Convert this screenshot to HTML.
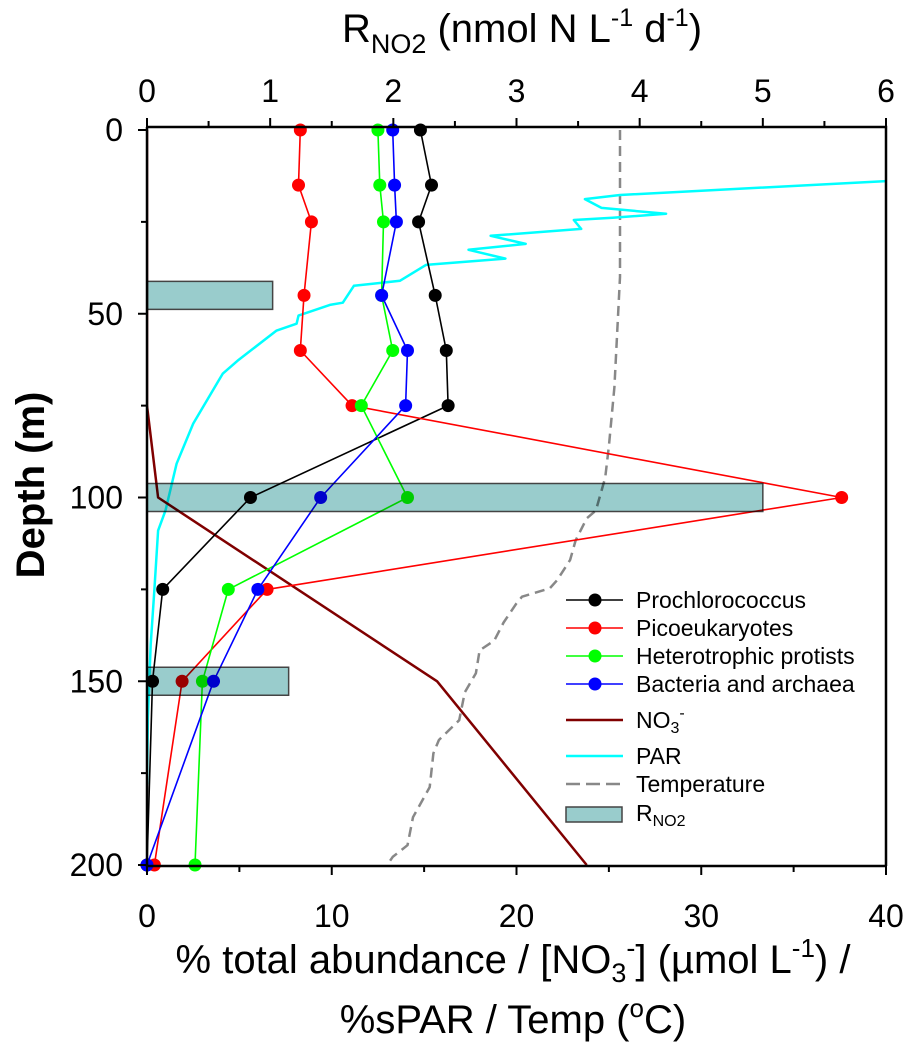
<!DOCTYPE html>
<html><head><meta charset="utf-8"><style>
html,body{margin:0;padding:0;background:#fff;}
svg text{font-family:"Liberation Sans",sans-serif;fill:#000;}
</style></head><body>
<svg id="chart" width="907" height="1047" viewBox="0 0 907 1047" xmlns="http://www.w3.org/2000/svg" style="position:absolute;left:0;top:0">
<g id="plot"></g>
</svg>
<script>
const depthsBio = [0, 15, 25, 45, 60, 75, 100, 125, 150, 200];
const prochlorococcus = [14.8, 15.4, 14.7, 15.6, 16.2, 16.3, 5.6, 0.85, 0.3, 0];
const picoeukaryotes = [8.3, 8.2, 8.9, 8.5, 8.3, 11.1, 37.6, 6.5, 1.9, 0.4];
const heterotrophs = [12.5, 12.6, 12.8, 12.7, 13.3, 11.6, 14.1, 4.4, 3.0, 2.6];
const bacteria = [13.3, 13.4, 13.5, 12.7, 14.1, 14.0, 9.4, 6.0, 3.6, 0];
const no3Depth = [0, 75, 100, 150, 200];
const no3Values = [0, 0, 0.6, 15.7, 23.8];
const parDepth = [13.9, 17.7, 18.8, 21.2, 22.8, 23.9, 24.5, 26.9, 28.8, 31, 32.6, 35, 36.7, 41, 42.4, 47, 47.6, 50.5, 52.7, 54.6, 62.8, 66.3, 79.9, 90.8, 103.5, 109, 125, 140, 160, 178];
const parValues = [40, 25.6, 23.7, 24.6, 28.1, 25.2, 23.1, 23.5, 18.6, 20.5, 17.4, 19.4, 15.1, 13.7, 11.2, 10.6, 9.9, 8.2, 8.1, 7.0, 4.9, 4.1, 2.5, 1.6, 1.0, 0.6, 0.4, 0.2, 0.05, 0];
const tempDepth = [0, 40, 70, 86, 94.6, 103.5, 105.7, 111.7, 117, 122.5, 124.7, 127, 128.8, 134, 138.9, 141.6, 147.8, 153, 160.6, 166, 169.6, 178.8, 187, 194.6, 197.8, 200];
const tempValues = [25.6, 25.6, 25.3, 25.0, 24.8, 24.3, 23.8, 23.2, 22.9, 22.2, 21.8, 20.3, 20.0, 19.3, 18.8, 18.0, 17.8, 17.2, 16.9, 15.8, 15.5, 15.3, 14.4, 14.1, 13.3, 13.0];
const rno2Depth = [45, 100, 150];
const rno2Values = [1.02, 5.0, 1.15];
const bottomTicks = [0, 10, 20, 30, 40];
const topTicks = [0, 1, 2, 3, 4, 5, 6];
const depthTicks = [0, 50, 100, 150, 200];

const NS = "http://www.w3.org/2000/svg";
const X0 = 147, X1 = 886, YT = 127, YB = 866;
const xB = v => X0 + v / 40 * (X1 - X0);
const xT = v => X0 + v / 6 * (X1 - X0);
const yD = d => 130 + d * 3.675;
const g = document.getElementById("plot");
function mk(tag, attrs, parent) {
  const e = document.createElementNS(NS, tag);
  for (const k in attrs) e.setAttribute(k, attrs[k]);
  (parent || g).appendChild(e);
  return e;
}
function poly(xs, ds, fx, stroke, w, dash, name) {
  const pts = xs.map((v, i) => fx(v).toFixed(1) + "," + yD(ds[i]).toFixed(1)).join(" ");
  const p = mk("polyline", {points: pts, fill: "none", stroke: stroke, "stroke-width": w, "stroke-linejoin": "round"});
  if (dash) p.setAttribute("stroke-dasharray", dash);
  
  
  return p;
}
const defs = mk("defs", {});
const cp = mk("clipPath", {id: "clip"}, defs);
mk("rect", {x: X0, y: YT, width: X1 - X0, height: YB - YT + 10}, cp);
const cg = mk("g", {"clip-path": "url(#clip)"});


function inClip(el){ cg.appendChild(el); return el; }
inClip(poly(tempValues, tempDepth, xB, "#888", 2.5, "10,6", "temperature-line"));
inClip(poly(parValues, parDepth, xB, "#00FFFF", 2.5, null, "par-line"));
inClip(poly(no3Values, no3Depth, xB, "#800000", 2.5, null, "no3-line"));
const series = [
  [prochlorococcus, "#000", "prochlorococcus"],
  [picoeukaryotes, "#FF0000", "picoeukaryotes"],
  [heterotrophs, "#00FF00", "heterotrophic-protists"],
  [bacteria, "#0000FF", "bacteria-archaea"]
];
series.forEach(([vals, col, nm]) => {
  inClip(poly(vals, depthsBio, xB, col, 1.6, null, nm + "-line"));
});
series.forEach(([vals, col, nm]) => {
  vals.forEach((v, i) => {
    const c = mk("circle", {cx: xB(v), cy: yD(depthsBio[i]), r: 6.5, fill: col});
    
    
  });
});
rno2Depth.forEach((d, i) => {
  const r = mk("rect", {x: X0, y: yD(d) - 14, width: xT(rno2Values[i]) - X0, height: 28, fill: "#99CCCC", stroke: "#444", "stroke-width": 1.5, style: "mix-blend-mode:multiply"});
  
  
});
const ax = mk("path", {d: `M${X0},${YT}H${X1}V${YB}M${X0},${YT}V${YB}H${X1}`, fill: "none", stroke: "#000", "stroke-width": 2.5});


for (let v = 0; v <= 40; v += 5) {
  const len = v % 10 === 0 ? 9 : 6;
  mk("line", {x1: xB(v), x2: xB(v), y1: YB, y2: YB + len, stroke: "#000", "stroke-width": 2});
}
for (let v = 0; v <= 6; v += 0.5) {
  const len = v % 1 === 0 ? 9 : 6;
  mk("line", {x1: xT(v), x2: xT(v), y1: YT, y2: YT - len, stroke: "#000", "stroke-width": 2});
}
for (let d = 0; d <= 200; d += 25) {
  mk("line", {x1: X0, x2: X0 - (d % 50 === 0 ? 9 : 6), y1: yD(d), y2: yD(d), stroke: "#000", "stroke-width": 2});
}
bottomTicks.forEach(v => {
  const t = mk("text", {x: xB(v), y: 927, "text-anchor": "middle", "font-size": 32});
  t.textContent = v;
  
  
});
topTicks.forEach(v => {
  const t = mk("text", {x: xT(v), y: 102, "text-anchor": "middle", "font-size": 32});
  t.textContent = v;
  
  
});
depthTicks.forEach(d => {
  const t = mk("text", {x: 123, y: yD(d) + 11, "text-anchor": "end", "font-size": 32});
  t.textContent = d;
  
  
});
</script>
<svg width="907" height="1047" style="position:absolute;left:0;top:0" xmlns="http://www.w3.org/2000/svg">
<text x="522" y="42" text-anchor="middle" font-size="40">R<tspan font-size="27" dy="11">NO2</tspan><tspan dy="-11"> (nmol N L</tspan><tspan font-size="25" dy="-16">-1</tspan><tspan dy="16"> d</tspan><tspan font-size="25" dy="-16">-1</tspan><tspan dy="16">)</tspan></text>
<text transform="translate(44,485) rotate(-90)" text-anchor="middle" font-size="40" font-weight="bold">Depth (m)</text>
<text x="513" y="973" text-anchor="middle" font-size="40">% total abundance / [NO<tspan font-size="27" dy="9">3</tspan><tspan font-size="27" dy="-25">-</tspan><tspan dy="16">] (µmol L</tspan><tspan font-size="26" dy="-16">-1</tspan><tspan dy="16">) /</tspan></text>
<text x="513" y="1033" text-anchor="middle" font-size="40">%sPAR / Temp (<tspan font-size="26" dy="-16">o</tspan><tspan dy="16">C)</tspan></text>
<g font-size="23">
  <line x1="566" x2="623" y1="600" y2="600" stroke="#000" stroke-width="1.6"/><circle cx="595" cy="600" r="6.5" fill="#000"/>
  <text x="636" y="608">Prochlorococcus</text>
  <line x1="566" x2="623" y1="628" y2="628" stroke="#f00" stroke-width="1.6"/><circle cx="595" cy="628" r="6.5" fill="#f00"/>
  <text x="636" y="636">Picoeukaryotes</text>
  <line x1="566" x2="623" y1="656" y2="656" stroke="#0f0" stroke-width="1.6"/><circle cx="595" cy="656" r="6.5" fill="#0f0"/>
  <text x="636" y="664">Heterotrophic protists</text>
  <line x1="566" x2="623" y1="684" y2="684" stroke="#00f" stroke-width="1.6"/><circle cx="595" cy="684" r="6.5" fill="#00f"/>
  <text x="636" y="692">Bacteria and archaea</text>
  <line x1="566" x2="623" y1="720" y2="720" stroke="#800000" stroke-width="2.5"/>
  <text x="636" y="728">NO<tspan font-size="16" dy="5">3</tspan><tspan font-size="16" dy="-15">-</tspan></text>
  <line x1="566" x2="623" y1="756" y2="756" stroke="#0ff" stroke-width="2.5"/>
  <text x="636" y="764">PAR</text>
  <line x1="566" x2="623" y1="784" y2="784" stroke="#888" stroke-width="2.5" stroke-dasharray="14,6"/>
  <text x="636" y="792">Temperature</text>
  <rect x="566" y="807" width="56" height="15" fill="#99CCCC" stroke="#444" stroke-width="1.5"/>
  <text x="636" y="821">R<tspan font-size="16" dy="5">NO2</tspan></text>
</g>
</svg>
</body></html>
